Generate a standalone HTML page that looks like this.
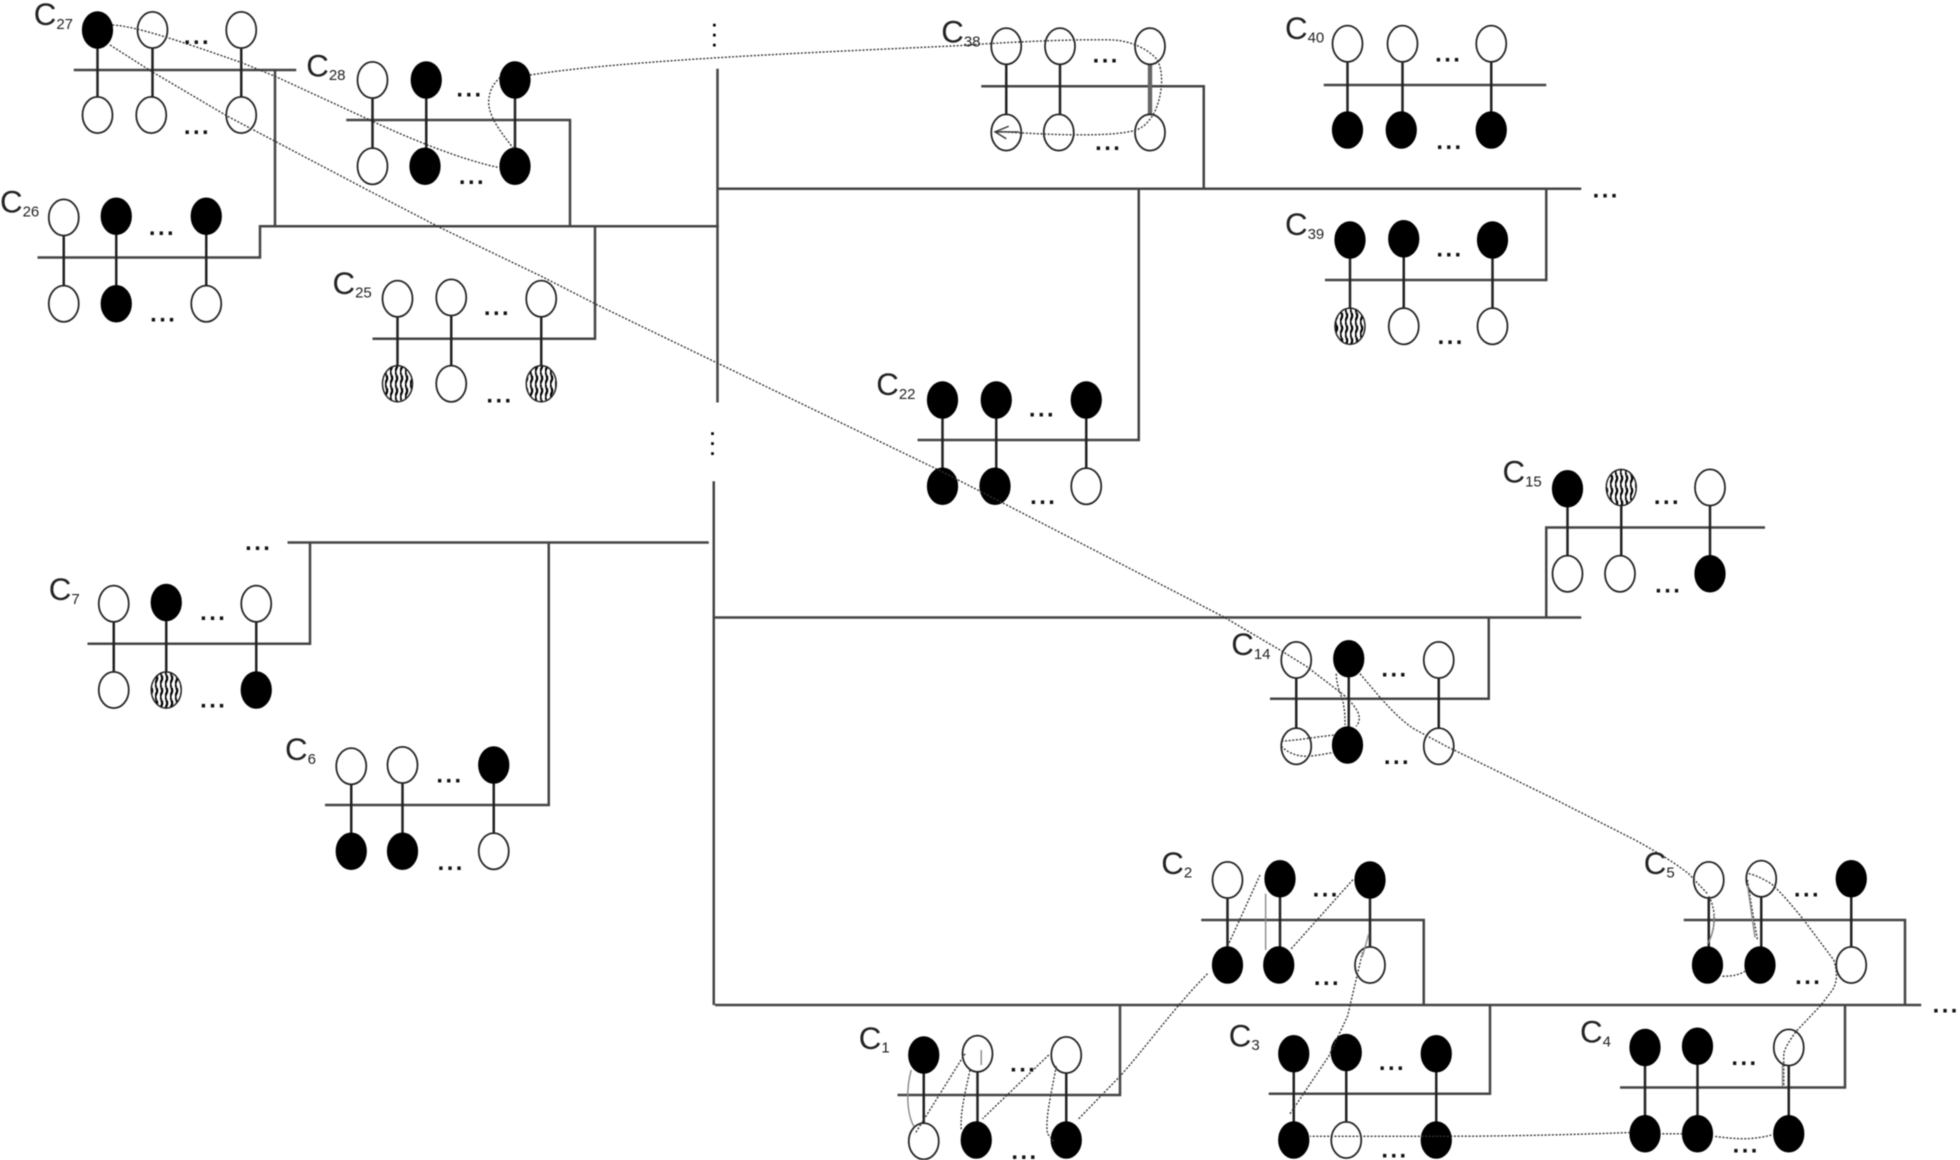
<!DOCTYPE html>
<html><head><meta charset="utf-8"><style>
html,body{margin:0;padding:0;background:#fff}
svg{display:block;filter:blur(.45px)}
ellipse{ry:14.5px}
.l{font:25px "Liberation Sans",sans-serif;fill:#222}
.l tspan{font-size:12px}
.d{font:bold 19px "Liberation Sans",sans-serif;fill:#111;text-anchor:middle;letter-spacing:2px}
.v{font:bold 15px "Liberation Sans",sans-serif;fill:#000;text-anchor:middle}
.bar{fill:none;stroke:#444;stroke-width:2}
.st{fill:none;stroke:#222;stroke-width:2}
.o{fill:#fff;stroke:#222;stroke-width:1.4}
.f{fill:#000;stroke:#000;stroke-width:1}
.h{fill:url(#hp);stroke:#222;stroke-width:1.2}
.dl{fill:none;stroke:#333;stroke-width:1.1;stroke-dasharray:1.6 1.3}
.gl{fill:none;stroke:#888;stroke-width:1.1}
</style></head><body>
<svg xmlns="http://www.w3.org/2000/svg" width="1960" height="1160" viewBox="0 0 1568 928">
<defs><pattern id="hp" width="4" height="10" patternUnits="userSpaceOnUse"><rect width="4" height="10" fill="#fff"/><path d="M1 0Q2.500 2.500 1 5T1 10" fill="none" stroke="#000" stroke-width="1.800"/></pattern></defs>
<rect width="1568" height="928" fill="#fff"/>

<!-- buses and bars -->
<g class="bar">
<path d="M59 56H237M220 56V181M277 96H456V181M30 206H208V181H575M476 181V271H298"/>
<path d="M574 55V322M571 385V804"/>
<path d="M574 151H1265M785 69H963V151M1059 68H1237M1060 224H1237V151M734 352H911V151"/>
<path d="M572 494H1265M1236 422H1412M1237 422V494M1016 559H1191V494"/>
<path d="M230 434H567M70 515H248V434M260 644H439V434"/>
<path d="M572 804H1537M961 736H1139V804M1347 736H1524V804M718 876H896V804M1015 875H1192V804M1296 870H1476V804"/>
</g>

<!-- stems -->
<path class="st" d="M78 24V92M122 24V92M193 24V92M298 64V133M341 64V133M412 64V133M51 174V243M93 173V243M165 173V243M318 239V307M361 238V307M433 239V307M805 37V106M848 37V106M1078 35V104M1122 35V104M1193 35V104M1080 192V261M1123 191V261M1194 192V261M754 320V389M797 320V389M869 320V389M1254 391V459M1297 390V459M1368 390V459M1037 528V597M1079 527V596M1151 528V597M91 483V552M133 482V552M205 483V552M281 613V681M322 612V681M395 612V681M982 704V772M1024 703V772M1096 704V772M1367 704V772M1409 703V772M1481 703V772M739 844V913M782 843V912M853 844V912M1035 843V912M1077 842V912M1149 843V912M1316 838V907M1358 837V907M1431 838V907"/>
<path d="M920 37V106" fill="none" stroke="#666" stroke-width="3.500"/>

<!-- open nodes -->
<g class="o">
<ellipse cx="122" cy="24" rx="12" ry="14"/><ellipse cx="193" cy="24" rx="12" ry="14"/><ellipse cx="78" cy="92" rx="12" ry="14"/><ellipse cx="121" cy="92" rx="12" ry="14"/><ellipse cx="193" cy="92" rx="12" ry="14"/>
<ellipse cx="298" cy="64" rx="12" ry="14"/><ellipse cx="298" cy="133" rx="12" ry="14"/>
<ellipse cx="51" cy="174" rx="12" ry="14"/><ellipse cx="51" cy="243" rx="12" ry="14"/><ellipse cx="165" cy="243" rx="12" ry="14"/>
<ellipse cx="318" cy="239" rx="12" ry="14"/><ellipse cx="361" cy="238" rx="12" ry="14"/><ellipse cx="433" cy="239" rx="12" ry="14"/><ellipse cx="361" cy="307" rx="12" ry="14"/>
<ellipse cx="805" cy="37" rx="12" ry="14"/><ellipse cx="848" cy="37" rx="12" ry="14"/><ellipse cx="920" cy="37" rx="12" ry="14"/><ellipse cx="805" cy="106" rx="12" ry="14"/><ellipse cx="847" cy="106" rx="12" ry="14"/><ellipse cx="920" cy="106" rx="12" ry="14"/>
<ellipse cx="1078" cy="35" rx="12" ry="14"/><ellipse cx="1122" cy="35" rx="12" ry="14"/><ellipse cx="1193" cy="35" rx="12" ry="14"/>
<ellipse cx="1123" cy="261" rx="12" ry="14"/><ellipse cx="1194" cy="261" rx="12" ry="14"/>
<ellipse cx="869" cy="389" rx="12" ry="14"/>
<ellipse cx="1368" cy="390" rx="12" ry="14"/><ellipse cx="1254" cy="459" rx="12" ry="14"/><ellipse cx="1296" cy="459" rx="12" ry="14"/>
<ellipse cx="1037" cy="528" rx="12" ry="14"/><ellipse cx="1151" cy="528" rx="12" ry="14"/><ellipse cx="1037" cy="597" rx="12" ry="14"/><ellipse cx="1151" cy="597" rx="12" ry="14"/>
<ellipse cx="91" cy="483" rx="12" ry="14"/><ellipse cx="205" cy="483" rx="12" ry="14"/><ellipse cx="91" cy="552" rx="12" ry="14"/>
<ellipse cx="281" cy="613" rx="12" ry="14"/><ellipse cx="322" cy="612" rx="12" ry="14"/><ellipse cx="395" cy="681" rx="12" ry="14"/>
<ellipse cx="982" cy="704" rx="12" ry="14"/><ellipse cx="1096" cy="772" rx="12" ry="14"/>
<ellipse cx="1367" cy="704" rx="12" ry="14"/><ellipse cx="1409" cy="703" rx="12" ry="14"/><ellipse cx="1481" cy="772" rx="12" ry="14"/>
<ellipse cx="782" cy="843" rx="12" ry="14"/><ellipse cx="853" cy="844" rx="12" ry="14"/><ellipse cx="739" cy="913" rx="12" ry="14"/>
<ellipse cx="1077" cy="912" rx="12" ry="14"/><ellipse cx="1431" cy="838" rx="12" ry="14"/>
</g>

<!-- filled nodes -->
<g class="f">
<ellipse cx="78" cy="24" rx="12" ry="14"/>
<ellipse cx="341" cy="64" rx="12" ry="14"/><ellipse cx="412" cy="64" rx="12" ry="14"/><ellipse cx="340" cy="133" rx="12" ry="14"/><ellipse cx="412" cy="133" rx="12" ry="14"/>
<ellipse cx="93" cy="173" rx="12" ry="14"/><ellipse cx="165" cy="173" rx="12" ry="14"/><ellipse cx="93" cy="243" rx="12" ry="14"/>
<ellipse cx="1078" cy="104" rx="12" ry="14"/><ellipse cx="1121" cy="104" rx="12" ry="14"/><ellipse cx="1193" cy="104" rx="12" ry="14"/>
<ellipse cx="1080" cy="192" rx="12" ry="14"/><ellipse cx="1123" cy="191" rx="12" ry="14"/><ellipse cx="1194" cy="192" rx="12" ry="14"/>
<ellipse cx="754" cy="320" rx="12" ry="14"/><ellipse cx="797" cy="320" rx="12" ry="14"/><ellipse cx="869" cy="320" rx="12" ry="14"/><ellipse cx="754" cy="389" rx="12" ry="14"/><ellipse cx="796" cy="389" rx="12" ry="14"/>
<ellipse cx="1254" cy="391" rx="12" ry="14"/><ellipse cx="1368" cy="459" rx="12" ry="14"/>
<ellipse cx="1079" cy="527" rx="12" ry="14"/><ellipse cx="1078" cy="596" rx="12" ry="14"/>
<ellipse cx="133" cy="482" rx="12" ry="14"/><ellipse cx="205" cy="552" rx="12" ry="14"/>
<ellipse cx="395" cy="612" rx="12" ry="14"/><ellipse cx="281" cy="681" rx="12" ry="14"/><ellipse cx="322" cy="681" rx="12" ry="14"/>
<ellipse cx="1024" cy="703" rx="12" ry="14"/><ellipse cx="1096" cy="704" rx="12" ry="14"/><ellipse cx="982" cy="772" rx="12" ry="14"/><ellipse cx="1023" cy="772" rx="12" ry="14"/>
<ellipse cx="1481" cy="703" rx="12" ry="14"/><ellipse cx="1366" cy="772" rx="12" ry="14"/><ellipse cx="1408" cy="772" rx="12" ry="14"/>
<ellipse cx="739" cy="844" rx="12" ry="14"/><ellipse cx="781" cy="912" rx="12" ry="14"/><ellipse cx="853" cy="912" rx="12" ry="14"/>
<ellipse cx="1035" cy="843" rx="12" ry="14"/><ellipse cx="1077" cy="842" rx="12" ry="14"/><ellipse cx="1149" cy="843" rx="12" ry="14"/><ellipse cx="1035" cy="912" rx="12" ry="14"/><ellipse cx="1149" cy="912" rx="12" ry="14"/>
<ellipse cx="1316" cy="838" rx="12" ry="14"/><ellipse cx="1358" cy="837" rx="12" ry="14"/><ellipse cx="1316" cy="907" rx="12" ry="14"/><ellipse cx="1358" cy="907" rx="12" ry="14"/><ellipse cx="1431" cy="907" rx="12" ry="14"/>
</g>

<!-- hatched nodes -->
<g class="h">
<ellipse cx="318" cy="307" rx="12" ry="14"/><ellipse cx="433" cy="307" rx="12" ry="14"/><ellipse cx="1080" cy="261" rx="12" ry="14"/><ellipse cx="1297" cy="390" rx="12" ry="14"/><ellipse cx="133" cy="552" rx="12" ry="14"/>
</g>

<!-- dotted connectors -->
<g class="dl">
<path d="M90 20C110 21 150 35 193 50L220 61L298 97C330 112 370 128 399 134"/>
<path d="M411 119C400 105 390 92 391 80C392 70 396 66 400 62"/>
<path d="M424 60C500 48 650 42 768 36.500C800 34 860 31 891 32C905 33 918 39 925 47C931 55 931 75 923 91C918 99 914 102 909 104C890 110 840 108 796 105"/>
<path d="M88 36L121 57L182 93L220 113L294 152L354 183L433 221L478 244L573 290L753 377L978 493L1024 520L1045 533L1075 556"/>
<path d="M1069 539C1069 550 1075 560 1075 565C1076 570 1076 575 1076 580M1075 556C1082 563 1092 572 1085 581"/>
<path d="M1067 588C1050 590 1040 592 1025 593M1025 597C1030 602 1037 605 1045 605C1052 605 1060 603 1067 602"/>
<path d="M1088 539L1105 559C1115 570 1122 577 1131 583L1157 597L1243 639L1308 672C1330 684 1342 692 1351 699L1366 715"/>
<path d="M1367 717C1374 730 1372 745 1366 755M1398 704C1401 725 1404 740 1406 752M1378 781C1386 781 1391 780 1396 777"/>
<path d="M1399 699C1405 700 1412 704 1417 707C1425 714 1435 726 1443 736L1467 768C1470 778 1470 785 1466 792L1456 805L1437 825C1432 832 1428 838 1427 843V869"/>
<path d="M1417 908C1410 910 1402 911 1394 911C1388 911 1378 910 1371 909M1346 907H1328M1304 906C1250 908 1200 909 1161 909H1048"/>
<path d="M1032 891L1063 845L1078 813L1086 779L1090 762"/>
<path d="M1033 759L1083 703M1008 700L983 755"/>
<path d="M966 779C940 805 915 840 896 861L862 896"/>
<path d="M839 844L786 895M845 853C841 875 836 895 838 907L843 913M776 856C772 875 768 890 769 904M772 843L732 907"/>
</g>

<!-- faint solid grey strokes -->
<g class="gl">
<path d="M729 856C725 870 725 890 731 901"/>
<path d="M785 840V852"/>
<path d="M1012.500 715V760"/>
<path d="M1095 747L1090 765"/>
<path d="M1371 731C1372 742 1369 750 1366 755M1398 708L1404 750"/>
<path d="M1426 852V869"/>
</g>
<path d="M807 101L796 105.500L805 111M796 105.500H815" fill="none" stroke="#333" stroke-width="1.100"/>

<!-- labels -->
<text class="l" x="27" y="20">C<tspan dy="3">27</tspan></text>
<text class="l" x="245" y="61">C<tspan dy="3">28</tspan></text>
<text class="l" x="0" y="170">C<tspan dy="3">26</tspan></text>
<text class="l" x="266" y="235">C<tspan dy="3">25</tspan></text>
<text class="l" x="753" y="34">C<tspan dy="3">38</tspan></text>
<text class="l" x="1028" y="31">C<tspan dy="3">40</tspan></text>
<text class="l" x="1028" y="188">C<tspan dy="3">39</tspan></text>
<text class="l" x="701" y="316">C<tspan dy="3">22</tspan></text>
<text class="l" x="1202" y="386">C<tspan dy="3">15</tspan></text>
<text class="l" x="985" y="524">C<tspan dy="3">14</tspan></text>
<text class="l" x="39" y="480">C<tspan dy="3">7</tspan></text>
<text class="l" x="228" y="608">C<tspan dy="3">6</tspan></text>
<text class="l" x="929" y="699">C<tspan dy="3">2</tspan></text>
<text class="l" x="1315" y="699">C<tspan dy="3">5</tspan></text>
<text class="l" x="687" y="839">C<tspan dy="3">1</tspan></text>
<text class="l" x="983" y="837">C<tspan dy="3">3</tspan></text>
<text class="l" x="1264" y="834">C<tspan dy="3">4</tspan></text>

<!-- ellipsis -->
<g class="d">
<text x="158" y="35">...</text><text x="158" y="107">...</text>
<text x="376" y="77">...</text><text x="378" y="147">...</text>
<text x="130" y="188">...</text><text x="131" y="257">...</text>
<text x="398" y="252">...</text><text x="400" y="322">...</text>
<text x="885" y="50">...</text><text x="887" y="120">...</text>
<text x="1159" y="49">...</text><text x="1160" y="119">...</text>
<text x="1160" y="205">...</text><text x="1161" y="275">...</text>
<text x="834" y="333">...</text><text x="835" y="403">...</text>
<text x="1334" y="403">...</text><text x="1335" y="474">...</text>
<text x="1116" y="541">...</text><text x="1118" y="611">...</text>
<text x="171" y="496">...</text><text x="171" y="566">...</text>
<text x="360" y="626">...</text><text x="361" y="696">...</text>
<text x="1061" y="717">...</text><text x="1062" y="788">...</text>
<text x="1446" y="717">...</text><text x="1447" y="787">...</text>
<text x="819" y="857">...</text><text x="820" y="927">...</text>
<text x="1114" y="856">...</text><text x="1116" y="926">...</text>
<text x="1396" y="852">...</text><text x="1397" y="922">...</text>
<text x="1285" y="158">...</text><text x="1557" y="810">...</text><text x="207" y="440">...</text>
</g>
<g class="v">
<text x="571.500" y="21">.</text><text x="571.500" y="29">.</text><text x="571.500" y="37">.</text>
<text x="570" y="348">.</text><text x="570" y="356">.</text><text x="570" y="364">.</text>
</g>
</svg>
</body></html>
